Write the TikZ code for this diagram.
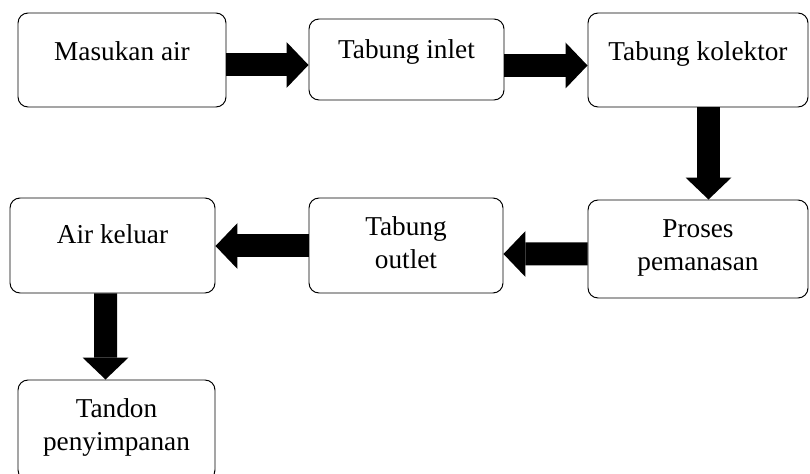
\documentclass[tikz,border=0pt]{standalone}
\usepackage{fontspec}
\setmainfont{Liberation Serif}
\usetikzlibrary{arrows.meta}

\tikzset{
  box/.style={draw, rounded corners=0.25cm, line width=0.7pt},
  lbl/.style={font=\fontsize{19.4}{23.4}\selectfont, align=center, inner sep=0pt, anchor=north},
  fat/.style={line width=0.575cm, -{Triangle[length=0.55cm, width=1.15cm, line width=0pt]}}
}

\begin{document}
\begin{tikzpicture}
                        \useasboundingbox (0,0) rectangle (20.25,11.825);

                        % Draw the boxes of the top row
                        \node[box, minimum width=5.2cm, minimum height=2.35cm] (masukan) at (3.05,10.325) {};
                        \node[box, minimum width=4.875cm, minimum height=2.025cm] (inlet) at (10.1625,10.3375) {};
                        \node[box, minimum width=5.5cm, minimum height=2.35cm] (kolektor) at (17.45,10.325) {};

                        % Draw the boxes of the middle row
                        \node[box, minimum width=5.5cm, minimum height=2.45cm] (pemanasan) at (17.45,5.6) {};
                        \node[box, minimum width=4.85cm, minimum height=2.375cm] (outlet) at (10.15,5.6875) {};
                        \node[box, minimum width=5.125cm, minimum height=2.375cm] (keluar) at (2.8125,5.6875) {};

                        % Draw the last box, cut by the page edge
                        \node[box, minimum width=4.925cm, minimum height=2.5cm] (tandon) at (2.9125,1.075) {};

                        % Texts near the top of each box
                        \node[lbl] (tmasukan) at ([yshift=-0.71cm]masukan.north) {Masukan air};
                        \node[lbl] (tinlet) at ([yshift=-0.51cm]inlet.north) {Tabung inlet};
                        \node[lbl] (tkolektor) at ([yshift=-0.71cm]kolektor.north) {Tabung kolektor};
                        \node[lbl] (tpemanasan) at ([yshift=-0.49cm]pemanasan.north) {Proses\\pemanasan};
                        \node[lbl] (toutlet) at ([yshift=-0.46cm]outlet.north) {Tabung\\outlet};
                        \node[lbl] (tkeluar) at ([yshift=-0.66cm]keluar.north) {Air keluar};
                        \node[lbl] (ttandon) at ([yshift=-0.46cm]tandon.north) {Tandon\\penyimpanan};

                        % Draw the thick arrows between the boxes
                        \draw[fat] ([yshift=-0.125cm]masukan.east) -- ([yshift=-0.1375cm]inlet.west);
                        \draw[fat] ([yshift=-0.15cm]inlet.east) -- ([yshift=-0.1375cm]kolektor.west);
                        \draw[fat] ([xshift=0.2625cm]kolektor.south) -- ([xshift=0.2625cm]pemanasan.north);
                        \draw[fat] ([yshift=-0.125cm]pemanasan.west) -- ([yshift=-0.2125cm]outlet.east);
                        \draw[fat] ([yshift=-0.0125cm]outlet.west) -- ([yshift=-0.0125cm]keluar.east);
                        \draw[fat] ([xshift=-0.175cm]keluar.south) -- ([xshift=-0.275cm]tandon.north);
                      \end{tikzpicture}
\end{document}
